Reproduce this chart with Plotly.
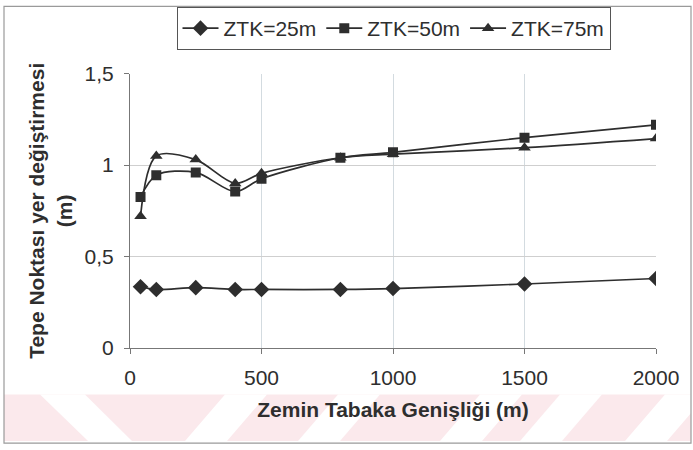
import plotly.graph_objects as go

# Zemin tabaka genişliği (m)
widths = [40, 100, 250, 400, 500, 800, 1000, 1500, 2000]

# Tepe noktası yer değiştirmesi (m)
ztk_25 = [0.335, 0.32, 0.33, 0.32, 0.32, 0.32, 0.325, 0.35, 0.38]
ztk_50 = [0.825, 0.945, 0.96, 0.855, 0.925, 1.04, 1.07, 1.15, 1.22]
ztk_75 = [0.72, 1.05, 1.03, 0.90, 0.955, 1.04, 1.06, 1.095, 1.145]

series_names = ["ZTK=25m", "ZTK=50m", "ZTK=75m"]
x_ticks = [0, 500, 1000, 1500, 2000]
y_ticks = [0, 0.5, 1, 1.5]

W, H = 693, 450
L, R, T, B = 130, 37, 71, 102
PW, PH = W - L - R, H - T - B

FONT = "Liberation Sans, Arial, sans-serif"
INK = "#2e2e2e"
FS = 21


def px(xp):
    return (xp - L) / PW


def py(yp):
    return (H - B - yp) / PH


fig = go.Figure()
for name, vals, sym, size in zip(series_names, [ztk_25, ztk_50, ztk_75],
                                 ["diamond", "square", "triangle-up"],
                                 [12, 10, 11]):
    fig.add_trace(go.Scatter(
        x=widths, y=vals, name=name, mode="lines+markers",
        line=dict(color=INK, width=1.7, shape="spline", smoothing=0.9),
        marker=dict(symbol=sym, size=size, color=INK),
    ))

shapes = []
# pale pink band along the bottom, cut by white diagonal stripes
band_top, band_bot = 395, 442
shapes.append(dict(
    type="rect", xref="paper", yref="paper", layer="below",
    x0=px(4), x1=px(691), y0=py(band_bot), y1=py(band_top),
    fillcolor="#fbe9ec", line=dict(width=0),
))
for xb in [185, 298, 440, 520, 625]:
    shapes.append(dict(
        type="path", xref="paper", yref="paper", layer="below",
        path=(f"M {px(xb)},{py(band_bot)} L {px(xb + 42)},{py(band_bot)} "
              f"L {px(xb + 82)},{py(band_top)} L {px(xb + 40)},{py(band_top)} Z"),
        fillcolor="white", line=dict(width=0),
    ))
shapes.append(dict(
    type="path", xref="paper", yref="paper", layer="below",
    path=(f"M {px(40)},{py(band_top)} L {px(85)},{py(band_top)} "
          f"L {px(132)},{py(band_bot)} L {px(88)},{py(band_bot)} Z"),
    fillcolor="white", line=dict(width=0),
))
# outer frame
shapes.append(dict(
    type="rect", xref="paper", yref="paper", layer="above",
    x0=px(4), x1=px(691), y0=py(444), y1=py(3),
    line=dict(color="#9a9a9a", width=1.2), fillcolor="rgba(0,0,0,0)",
))

fig.update_layout(
    width=W, height=H,
    margin=dict(l=L, r=R, t=T, b=B),
    paper_bgcolor="white", plot_bgcolor="white",
    separators=",.",
    font=dict(family=FONT, color=INK, size=FS),
    shapes=shapes,
    showlegend=True,
    legend=dict(
        orientation="h", xref="container", yref="container",
        x=393.5 / W, xanchor="center", y=1 - 7 / H, yanchor="top",
        bordercolor="#555", borderwidth=1, bgcolor="white",
        font=dict(family=FONT, size=FS, color=INK),
        itemwidth=36, tracegroupgap=0,
    ),
    xaxis=dict(
        range=[0, 2000], tickvals=x_ticks, ticks="outside", ticklen=5,
        tickcolor="#777", showline=True, linecolor="#777", linewidth=1,
        showgrid=True, gridcolor="#d3dbe0", gridwidth=1, zeroline=False,
        tickfont=dict(size=FS, color=INK), ticklabelstandoff=6,
        title=dict(text="<b>Zemin Tabaka Genişliği (m)</b>",
                   font=dict(size=FS, color=INK), standoff=14),
    ),
    yaxis=dict(
        range=[0, 1.5], tickvals=y_ticks, ticks="outside", ticklen=5,
        tickcolor="#777", showline=True, linecolor="#777", linewidth=1,
        showgrid=True, gridcolor="#cfcfcf", gridwidth=1, zeroline=False,
        tickfont=dict(size=FS, color=INK), ticklabelstandoff=6,
        title=dict(text="<b>Tepe Noktası yer değiştirmesi<br>(m)</b>",
                   font=dict(size=FS, color=INK), standoff=6),
    ),
)

fig.write_html("out.html")
